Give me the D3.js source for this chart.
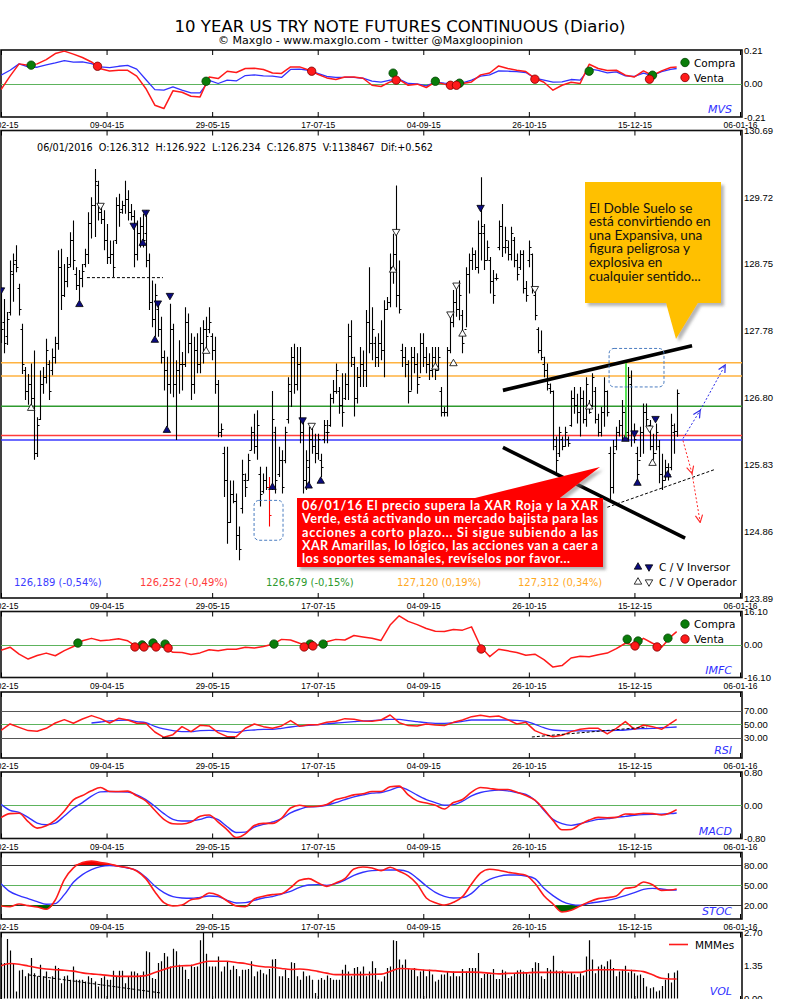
<!DOCTYPE html>
<html lang="es">
<head>
<meta charset="utf-8">
<title>10 YEAR US TRY NOTE FUTURES CONTINUOUS (Diario)</title>
<script src="https://cdn.jsdelivr.net/npm/d3@7"></script>
<style>
html,body{margin:0;padding:0;background:#fff;}
svg{display:block;font-family:"DejaVu Sans",sans-serif;}
.xaxis text{font-size:8.5px;fill:#000;}
.xaxis line{stroke:#000;stroke-width:1;}
.yaxis text{font-size:9.5px;fill:#000;}
</style>
</head>
<body>
<svg id="chart" width="800" height="999"></svg>
<script>
// ---------- date axis ----------
const tickIdx = [0, 35, 70, 105, 140, 175, 210, 245];
const tickLabels = ["19-02-15","09-04-15","29-05-15","17-07-15","04-09-15","26-10-15","15-12-15","06-01-16"];

// ---------- daily OHLC (one entry per session) ----------
const highs = [
128.4,128.24,128.05,128.8,128.9,129.02,128.46,127.88,127.25,127.15,
127.3,127.49,126.52,127.2,127.25,127.66,127.35,127.52,127.69,128.95,
128.97,128.75,128.85,129.21,129.38,128.7,128.66,128.75,128.97,129.5,
129.72,130.13,129.96,129.62,129.53,129.33,129.09,129.09,129.72,129.77,
129.67,129.96,129.82,129.62,129.53,129.38,129.43,129.48,129.53,128.9,
128.51,128.46,128.17,127.98,127.49,127.4,128.17,127.88,127.35,127.64,
127.47,128.12,128.03,127.74,127.69,127.74,127.83,127.93,127.98,128.12,
127.74,127.69,127.06,126.43,126.09,126.09,125.6,125.6,125.41,124.93,
125.9,125.7,125.99,126.38,126.57,126.62,125.8,125.7,125.8,125.65,
126.9,126.38,126.09,126.04,126.38,127.1,127.54,127.59,127.54,127.54,
126.48,126.04,126.38,126.38,126.28,126.28,125.99,126.48,126.48,126.86,
127.06,127.3,126.96,127.16,127.16,127.88,127.93,127.4,127.25,127.54,
127.49,128.08,128.7,128.12,127.69,127.74,127.93,128.22,128.27,128.9,
129.19,129.89,128.8,127.59,127.54,127.35,127.54,127.54,127.45,127.74,
127.74,127.54,127.45,127.54,127.54,127.54,126.96,126.67,127.54,128.03,
128.37,128.41,128.51,128.08,128.7,128.9,128.99,128.95,129.38,130.01,
129.33,129.09,128.85,128.66,128.61,129.38,129.62,129.29,129.09,129.29,
129.14,128.9,128.95,128.95,128.5,129.09,128.9,128.37,127.83,127.78,
127.4,127.3,127.01,126.91,126.24,126.38,126.24,126.38,126.24,126.91,
126.96,126.86,126.96,126.91,127.1,126.77,127.16,126.96,126.57,126.67,
127.1,126.91,126.09,126.19,126.38,126.48,126.77,126.67,127.25,127.2,
126.43,126.09,126.38,126.72,126.72,126.48,126.28,126.43,126.19,125.99,
125.9,125.85,126.57,126.43,126.922];
const lows = [
127.6,127.45,127.57,128.0,128.2,128.63,128.0,127.15,126.77,126.7,
126.67,125.9,125.94,126.48,126.86,127.01,126.77,127.13,127.3,127.5,
128.08,128.27,128.41,128.7,128.66,128.37,128.22,128.41,128.7,128.75,
129.12,129.14,129.38,129.33,128.95,128.75,128.75,128.56,129.04,129.29,
129.48,129.48,129.38,129.38,128.7,128.8,128.99,128.99,128.7,128.08,
127.83,127.69,127.69,127.3,126.91,126.38,126.86,126.81,126.19,126.86,
126.91,127.25,127.45,126.77,126.86,127.16,127.16,127.3,127.49,127.74,
127.35,126.86,126.23,126.23,125.36,124.68,124.98,125.27,124.59,124.44,
125.12,125.36,125.6,126.04,125.99,125.9,125.22,125.41,125.46,124.93,
125.46,125.41,125.65,125.41,125.85,126.43,126.67,126.86,126.91,126.14,
125.41,125.46,125.56,125.99,125.85,125.9,125.65,126.14,126.14,126.38,
126.72,126.86,126.57,126.38,126.77,126.77,127.25,126.53,126.72,126.96,
126.96,126.96,127.45,127.35,127.25,127.25,127.35,127.1,128.08,128.12,
128.46,128.12,128.03,127.25,127.1,126.72,126.91,127.16,126.86,127.16,
127.25,127.16,127.06,127.1,127.06,127.2,126.53,126.53,126.53,127.45,
127.83,127.98,127.93,127.45,127.83,128.32,128.66,128.66,128.61,128.8,
128.66,128.8,128.32,128.17,128.51,128.95,128.85,128.9,128.8,128.8,
128.7,128.51,128.66,128.32,128.2,128.7,128.32,127.93,127.45,127.35,
127.1,126.91,126.86,126.04,125.7,125.94,126.04,126.09,126.09,126.38,
126.57,126.43,126.24,126.43,126.38,126.57,126.67,126.43,126.24,126.24,
126.38,126.53,125.32,125.41,126.04,126.24,126.19,126.24,126.19,126.09,
126.14,125.56,125.94,125.99,126.38,126.04,125.9,126.04,125.56,125.46,
125.6,125.6,125.75,125.99,126.234];
const opens = [
128.3,127.9,127.7,128.05,128.6,128.8,128.4,127.8,127.2,126.9,
127.0,126.8,126.0,126.5,127.0,127.1,127.3,127.2,127.4,127.6,
128.7,128.3,128.5,128.75,129.1,128.6,128.45,128.55,128.75,128.9,
129.35,129.6,129.9,129.5,129.4,129.1,128.85,128.9,129.1,129.6,
129.55,129.6,129.7,129.5,129.45,128.9,129.2,129.3,129.2,128.8,
128.2,127.95,128.1,127.8,127.4,127.2,127.0,127.8,127.0,127.2,
127.3,127.3,127.9,127.6,127.0,127.5,127.3,127.6,127.8,127.8,
127.7,127.5,127.0,126.3,126.0,125.6,125.0,125.4,125.3,124.8,
125.2,125.6,125.6,126.05,126.3,126.1,125.7,125.45,125.6,125.5,
125.5,126.3,125.7,125.9,125.9,126.5,126.9,127.4,127.0,127.3,
126.3,125.6,125.8,126.2,126.1,126.0,125.9,126.2,126.3,126.4,
126.8,126.9,126.9,126.7,126.8,127.0,127.7,127.3,126.8,127.1,
127.3,127.2,127.9,127.6,127.6,127.4,127.6,127.5,128.1,128.2,
128.7,128.9,128.3,127.5,127.4,127.3,126.9,127.4,127.3,127.1,
127.6,127.4,127.3,127.2,127.4,127.2,126.9,126.6,126.6,127.5,
127.9,128.2,128.1,128.0,127.8,128.6,128.8,128.9,128.7,129.2,
129.2,128.8,128.8,128.5,128.55,129.0,129.3,129.0,129.0,128.9,
129.1,128.8,128.7,128.9,128.4,128.8,128.9,128.3,127.8,127.5,
127.3,127.2,126.95,126.9,126.1,126.0,126.2,126.1,126.2,126.4,
126.8,126.7,126.6,126.8,126.5,126.7,126.7,126.9,126.5,126.3,
126.6,126.9,126.0,125.5,126.1,126.3,126.4,126.6,126.3,127.0,
126.3,126.0,125.9,126.3,126.6,126.4,126.1,126.0,126.1,125.7,
125.6,125.8,125.8,126.3,126.312];
const closes = [
127.8,127.6,127.95,128.65,128.75,128.7,128.1,127.3,126.9,127.0,
126.8,126.0,126.4,127.0,127.1,127.5,126.9,127.4,127.6,128.7,
128.3,128.5,128.7,129.1,128.8,128.45,128.55,128.65,128.9,129.35,
129.6,129.95,129.5,129.4,129.1,128.85,128.9,128.7,129.6,129.5,
129.6,129.7,129.5,129.45,128.9,129.2,129.3,129.1,128.8,128.2,
127.95,128.3,127.8,127.4,127.2,127.0,127.8,127.0,127.2,127.3,
127.3,127.9,127.6,127.0,127.5,127.3,127.6,127.8,127.7,127.9,
127.5,127.0,126.3,126.35,125.6,125.0,125.4,125.3,124.8,124.6,
125.7,125.5,125.9,126.3,126.1,126.4,125.4,125.6,125.5,125.1,
126.5,125.6,125.9,125.5,126.3,127.0,127.4,127.0,127.3,126.3,
125.6,125.9,126.2,126.1,126.0,126.2,125.8,126.4,126.3,126.8,
126.9,127.2,126.7,126.6,127.0,127.7,127.4,126.8,127.1,127.3,
127.2,127.9,127.6,127.8,127.4,127.6,127.5,128.1,128.2,128.7,
128.9,128.3,128.1,127.4,127.3,126.9,127.4,127.3,127.0,127.6,
127.4,127.3,127.2,127.4,127.2,127.4,126.6,126.6,127.5,127.9,
128.2,128.1,128.3,127.6,128.6,128.8,128.9,128.7,129.2,129.3,
128.8,129.0,128.5,128.3,128.55,129.3,129.0,129.1,128.9,129.2,
128.8,128.6,128.9,128.4,128.3,129.0,128.4,128.0,127.5,127.4,
127.2,127.0,126.9,126.2,125.9,126.3,126.1,126.3,126.15,126.8,
126.7,126.6,126.8,126.5,127.0,126.6,127.1,126.5,126.3,126.6,
126.9,126.6,125.5,126.0,126.3,126.4,126.6,126.3,127.1,126.3,
126.2,125.7,126.3,126.6,126.5,126.1,126.0,126.3,125.7,125.6,
125.8,125.7,126.4,126.313,126.875];
const highlightBar = 89;

// signal triangles on the price chart: [session, price, type]
const priceMarks = [[0,128.37,"bd"],[10,126.65,"ou"],[26,128.16,"bu"],[33,129.6,"od"],[44,129.31,"bd"],
[47,129.05,"bu"],[48,129.5,"bd"],[51,127.64,"bu"],[52,128.18,"bd"],[55,126.33,"bu"],[56,128.29,"bd"],
[68,127.48,"ou"],[90,125.5,"bu"],[100,126.48,"bd"],[102,125.52,"bu"],[103,126.4,"od"],[106,125.59,"bu"],
[130,128.66,"ou"],[131,129.22,"od"],[144,127.25,"ou"],[149,128.02,"od"],[150,127.3,"ou"],[151,128.44,"od"],
[153,127.73,"ou"],[159,129.57,"bd"],[177,128.39,"od"],[195,126.67,"ou"],[207,126.2,"bu"],[210,126.29,"bd"],
[211,125.56,"bu"],[215,126.36,"od"],[216,125.85,"ou"],[217,126.5,"bd"],[221,125.68,"bu"]];

// XAR levels
const xarLevels = [
  {v:127.312, pct:"0,34%", color:"#ffb23f"},
  {v:127.120, pct:"0,19%", color:"#ffb23f"},
  {v:126.679, pct:"-0,15%", color:"#2e9a2e"},
  {v:126.252, pct:"-0,49%", color:"#ff3b3b"},
  {v:126.189, pct:"-0,54%", color:"#3b3bff"}];

// ---------- indicators, read every third session ----------
const mvsRed = [-0.038,0.046,0.123,0.115,0.123,0.150,0.188,0.203,0.184,0.163,
0.135,0.092,0.079,0.083,0.083,0.046,-0.031,-0.136,-0.157,-0.046,
-0.055,-0.080,-0.084,0.041,0.031,0.077,0.069,0.094,0.096,0.088,
0.066,0.063,0.104,0.104,0.085,0.058,0.035,0.025,0.041,0.040,
0.033,-0.011,-0.019,0.010,0.025,-0.011,-0.004,-0.025,0.010,-0.004,
-0.011,0,0.010,0.054,0.066,0.110,0.094,0.083,0.075,0.033,
0.008,-0.042,-0.011,0.008,0,0.121,0.094,0.082,0.083,0.052,
0.041,0.079,0.050,0.079,0.100,0.104];
const mvsBlue = [0.052,0.083,0.123,0.104,0.102,0.117,0.129,0.144,0.134,0.135,
0.125,0.104,0.100,0.108,0.113,0.090,0.025,-0.038,-0.042,-0.021,
-0.042,-0.059,-0.059,0.019,0,0.021,0.016,0.050,0.054,0.048,
0.046,0.038,0.088,0.090,0.083,0.063,0.044,0.038,0.038,0.038,
0.033,0.015,0.008,0.021,0.027,0,-0.002,-0.015,0.008,0.002,
0,0.004,0.021,0.046,0.054,0.079,0.077,0.075,0.069,0.033,
0.021,0.008,0.010,0.025,0.021,0.092,0.082,0.066,0.073,0.048,
0.044,0.065,0.050,0.075,0.088,0.094];
const mvsBuy = [[10,0.115],[68,0.014],[130,0.065],[144,0.014],[152,0.002],[195,0.077],[216,0.052]];
const mvsSell = [[32,0.108],[103,0.077],[131,0.021],[149,-0.011],[151,-0.011],[177,0.027],[215,0.027]];

const imfc = [-2.8,-1.3,-4.7,-7.1,-5.4,-4.2,-5.5,-3.0,-1.0,1.8,
3.0,1.8,2.2,2.8,1.8,-1.0,-0.7,-1.3,-1.2,-3.8,
-3.9,-4.9,-4.1,-2.6,-3.1,-2.3,-2.3,-1.3,-1.7,-1.0,
0.1,2.5,2.2,0.6,-0.6,-0.2,1.3,2.5,2.2,4.4,
3.7,3.0,2.0,9.5,14.0,11.3,9.7,7.8,6.5,6.3,
7.3,7.0,8.6,-1.0,-5.9,-2.3,-3.1,-3.9,-5.2,-4.7,
-7.4,-11.0,-10.3,-6.6,-5.7,-6.0,-5.0,-4.2,-2.0,0.6,
-0.2,3.0,0.6,-1.3,3.7,6.3];
const imfcBuy = [[25.5,0.7],[46.8,-0.2],[50.4,0.7],[54.4,0.2],[90.5,0.2],[102.5,0.2],[106.8,0.2],[207.6,2.6],[211.2,1.7],[221.1,3.1]];
const imfcSell = [[44.4,-1.2],[47.4,-1.2],[51.4,-1.2],[55.4,-1.7],[100.5,-1.2],[103.4,-0.7],[159.2,-2.2],[210.2,-0.7],[217.5,-1.2]];

const rsiRed = [41.1,50.4,45.5,40.7,39.7,44.1,51.8,56.7,51.4,57.7,
62.6,58.2,51.8,58.7,56.2,51.4,51.4,38.7,30.9,34.8,
46.5,39.2,48.4,47.5,37.7,31.9,31.9,44.1,50.4,46.5,
44.1,47.5,55.3,47,49.4,49.4,52.8,54.3,58.2,57.2,
54.8,54.3,56.2,63.5,52.3,48,47.5,50.4,48.9,48,
52.8,56.2,61.1,63,61.1,62.1,56.7,50.4,52.8,40.7,
35.3,31.9,33.8,39.2,42.6,44.1,44.1,35.8,44.1,53.8,
42.6,48.9,46.5,42.6,51.4,57.2];
const rsiBlue = [null,null,null,null,null,null,null,null,null,null,
51.8,53.3,54.8,55.8,56.2,53.8,52.3,47,43.1,40.7,
39.2,39.2,40.7,41.1,40.7,39.2,38.2,40.7,41.6,42.6,
42.6,44.1,46,47.5,48.4,49.4,50.4,51.8,52.8,53.8,
54.8,55.3,56.2,57.2,57.2,55.3,53.8,52.3,51.4,51.4,
52.3,54.3,56.2,56.2,56.2,56.2,56.2,55.8,54.3,49.9,
45,41.6,40.7,40.2,40.2,40.2,40.2,40.7,41.1,41.6,
43.1,43.6,44.1,45,45.5,46];

const macdRed = [-0.299,-0.202,-0.194,-0.396,-0.55,-0.493,-0.356,-0.137,0.129,0.234,
0.347,0.428,0.331,0.331,0.339,0.226,0.105,-0.121,-0.339,-0.444,
-0.452,-0.404,-0.267,-0.234,-0.404,-0.59,-0.776,-0.687,-0.485,-0.436,
-0.436,-0.315,-0.065,0,-0.032,-0.024,0.016,0.137,0.186,0.25,
0.275,0.331,0.331,0.444,0.46,0.25,0.105,0.053,0,-0.089,
0.065,0.137,0.315,0.428,0.404,0.38,0.38,0.315,0.234,0.121,
-0.097,-0.364,-0.59,-0.582,-0.461,-0.356,-0.291,-0.299,-0.291,-0.21,
-0.218,-0.194,-0.202,-0.234,-0.178,-0.105];
const macdBlue = [0.024,-0.121,-0.17,-0.291,-0.428,-0.469,-0.428,-0.259,-0.073,0.065,
0.218,0.323,0.331,0.323,0.315,0.25,0.137,-0.024,-0.202,-0.339,
-0.38,-0.38,-0.339,-0.283,-0.348,-0.517,-0.655,-0.647,-0.525,-0.461,
-0.404,-0.323,-0.186,-0.097,-0.04,-0.032,0,0.065,0.137,0.202,
0.25,0.291,0.307,0.364,0.436,0.364,0.242,0.137,0.065,0,
0.016,0.097,0.226,0.307,0.347,0.364,0.347,0.307,0.259,0.121,
-0.121,-0.339,-0.444,-0.485,-0.444,-0.388,-0.339,-0.323,-0.291,-0.267,
-0.242,-0.226,-0.218,-0.218,-0.202,-0.186];

const stocRed = [18.5,17.5,21.5,19,17,13.5,27.5,58,75.6,83.6,
86.1,83.6,81.6,78.1,76.1,71.1,59.6,40,23.5,18.5,
20,28,30,38,34.5,26,18.5,17.5,29,33,
35.5,37,46,57,59.6,53.5,48,53,59.6,74,
77.1,75.6,71.6,76.6,70.6,63.6,51,30.5,23.5,20,
24,32.5,51.5,68.1,73.6,72.1,69.1,67.1,64.6,52.5,
34,21.5,9.5,12,18.5,25,29.5,31,33.5,45,
46.5,54.5,50.5,42,42.5,44];
const stocBlue = [52,40,34,29.5,25,21,22,35.5,54,65.6,
73.1,77.6,79.1,78.1,75.6,71.6,61.6,48.5,38.5,32.5,
30.5,30,31.5,33.5,32.5,27,23,23.5,27,30.5,
32.5,36.5,40.5,46.5,50,50.5,49.5,52,57.5,64.6,
69.1,71.6,72.1,72.6,72.6,69.6,60,48.5,39,33,
30.5,31,37.5,50,58.6,63,65,65,63.6,59.6,
45,34,25.5,21,19.5,22.5,24.5,27,30,34,
38.5,43.5,45,44,42.5,42.5];

// volume (millions) per session and its monthly average
const volume = [
1.44,1.44,2.42,1.95,1.44,0.28,1.14,1.17,0.9,1.03,
1.64,1.03,0.9,1.37,0.9,1.1,0.76,0.9,1.33,1.24,
0.62,0.9,0.93,0.76,1.3,0.76,0.76,0.76,0.69,0.9,
0.83,0.69,0.49,0.83,0.9,0.76,0.76,1.13,0.9,1.13,
1.13,0.62,0.9,1.1,1.1,1.03,0.93,1.1,1.92,1.88,
0.83,0.79,1.44,1.51,1.85,1.71,1.3,2.02,1.92,1.37,
1.3,1.17,0.79,1.37,1.28,1.3,2.36,2.67,1.82,1.3,
1.3,1.3,1.71,1.1,1.3,1.51,1.17,1.33,1.2,0.9,
1.17,1.17,1.2,1.51,0.9,1.1,1.17,1.03,0.97,1.2,
1.58,1.6,0.9,0.9,1.17,0.83,1.47,1.44,0.9,0.76,
1.1,0.9,0.93,0.76,0.22,0.76,0.83,0.76,0.93,0.83,
0.76,0.76,0.76,1.17,1.37,1.1,0.9,1.24,1.28,1.1,
1.3,0.9,1.1,1.51,1.24,0.76,0.69,0.9,1.24,1.3,
2.36,2.33,1.58,
1.37,1.58,1.24,1.17,1.24,0.9,1.1,1.17,0.9,1.17,
0.97,0.69,0.76,0.97,0.97,1.1,0.9,1.1,0.9,0.9,
1.2,1.1,1.24,1.24,1.24,1.85,0.83,0.99,1.03,
0.97,1.2,0.79,0.79,1.17,1.1,0.83,0.9,0.99,1.14,
1.17,1.1,1.06,0.97,1.24,1.47,1.44,0.9,0.79,1.24,
1.17,1.74,1.14,1.1,1.14,1.06,0.97,1.06,0.97,
0.87,1.03,0.93,1.71,2.36,1.58,1.03,1.3,1.37,1.3,
1.51,1.58,1.24,0.9,1.1,1.17,1.33,1.06,1.17,1.03,
0.93,0.97,0.83,0.49,0.42,0.46,0.28,0.32,0.51,0.76,
1.03,0.65,1.06,1.14];
const mmMes = [1.33,1.42,1.39,1.32,1.25,1.2,1.17,1.15,1.11,1.04,
1.0,0.97,0.93,0.9,0.9,0.9,0.93,1.06,1.18,1.29,
1.33,1.34,1.44,1.51,1.51,1.51,1.46,1.42,1.34,1.29,
1.27,1.22,1.18,1.2,1.17,1.1,1.03,0.97,0.97,0.97,
0.97,0.98,0.99,1.1,1.22,1.21,1.18,1.15,1.13,1.09,
1.07,1.07,1.07,1.06,1.03,1.0,1.02,1.03,1.04,1.06,
1.06,1.06,1.06,1.06,1.06,1.15,1.17,1.17,1.17,1.15,
1.13,1.09,0.96,0.82,0.79,0.79];

// session index of every indicator reading
const sampleIdx = d3.range(0, 223, 3).concat([224]);

// ---------- layout ----------
const svg = d3.select("#chart");
const X0 = 1, X1 = 742;
const x = d3.scaleLinear().domain([0, 245]).range([1, 740]);
const px = i => Math.round(x(i)) + 0.5;

const panels = {
  mvs:  {top:50,    bottom:117,   domain:[-0.21,0.21], ticks:[0.21,0,-0.21], labels:true, name:"MVS"},
  main: {top:130.5, bottom:598,   domain:[123.89,130.69], ticks:[130.69,129.72,128.75,127.78,126.80,125.83,124.86,123.89], labels:true},
  imfc: {top:611.5, bottom:677.5, domain:[-16.1,16.1], ticks:[16.1,0,-16.1], labels:true, name:"IMFC"},
  rsi:  {top:692,   bottom:758,   domain:[0,100], range:[758.5,690], ticks:[70,50,30], labels:true, name:"RSI"},
  macd: {top:772,   bottom:838.5, domain:[-0.8,0.8], ticks:[0.8,0,-0.8], labels:true, name:"MACD"},
  stoc: {top:852.5, bottom:919,   domain:[0,100], range:[918.3,851.7], ticks:[80,50,20], labels:true, name:"STOC"},
  vol:  {top:932.5, bottom:1001,  domain:[0,2.7], range:[998.5,932], ticks:[2.7,1.35,0], labels:false, name:"VOL"}
};
Object.entries(panels).forEach(([k,p]) => {
  p.y = d3.scaleLinear().domain(p.domain).range(p.range || [p.bottom, p.top]);
  p.key = k;
});

const defs = svg.append("defs");
Object.values(panels).forEach(p => {
  defs.append("clipPath").attr("id","clip-"+p.key)
    .append("rect").attr("x",X0).attr("y",p.top).attr("width",X1-X0).attr("height",p.bottom-p.top);
});
const shadow = defs.append("filter").attr("id","shadow").attr("x","-10%").attr("y","-10%").attr("width","130%").attr("height","140%");
shadow.append("feDropShadow").attr("dx",3).attr("dy",3).attr("stdDeviation",1.6).attr("flood-color","#7a7a7a").attr("flood-opacity",0.55);
function arrowMarker(id, color){
  defs.append("marker").attr("id",id).attr("viewBox","0 0 10 10").attr("refX",9).attr("refY",5)
    .attr("markerWidth",9).attr("markerHeight",9).attr("orient","auto-start-reverse").attr("markerUnits","userSpaceOnUse")
    .append("path").attr("d","M1,1L9,5L1,9").attr("fill","none").attr("stroke",color).attr("stroke-width",1.3);
}
arrowMarker("arrow-blue","#2a2ae6");
arrowMarker("arrow-red","#ff2a2a");

// ---------- titles ----------
svg.append("text").attr("x",400).attr("y",32).attr("text-anchor","middle")
  .attr("font-size",16.5).attr("textLength",451).attr("lengthAdjust","spacingAndGlyphs")
  .text("10 YEAR US TRY NOTE FUTURES CONTINUOUS (Diario)");
svg.append("text").attr("x",370.5).attr("y",43.5).attr("text-anchor","middle")
  .attr("font-size",11).attr("textLength",305).attr("lengthAdjust","spacingAndGlyphs")
  .text("© Maxglo - www.maxglo.com - twitter @Maxgloopinion");

// ---------- frames & axes ----------
function frame(p){
  svg.append("rect").attr("x",X0).attr("y",p.top).attr("width",X1-X0).attr("height",p.bottom-p.top)
    .attr("fill","none").attr("stroke","#111").attr("stroke-width",1.6);
  const gb = svg.append("g").attr("class","xaxis").attr("transform",`translate(0,${p.bottom})`)
    .call(d3.axisBottom(x).tickValues(tickIdx).tickFormat((d,i)=>tickLabels[i]).tickSizeInner(-5).tickSizeOuter(0).tickPadding(5));
  gb.select(".domain").remove();
  if(!p.labels) gb.selectAll("text").remove();
  const gt = svg.append("g").attr("class","xaxis").attr("transform",`translate(0,${p.top})`)
    .call(d3.axisTop(x).tickValues(tickIdx).tickFormat("").tickSizeInner(-5).tickSizeOuter(0));
  gt.select(".domain").remove();
  const gy = svg.append("g").attr("class","yaxis").attr("transform",`translate(${X1},0)`)
    .call(d3.axisRight(p.y).tickValues(p.ticks).tickSize(0).tickPadding(2).tickFormat(d => d.toFixed(2)));
  gy.select(".domain").remove();
  if(p.name){
    svg.append("text").attr("x",732).attr("y",p.key==="vol"?995:p.bottom-4).attr("text-anchor","end")
      .attr("font-size",11).attr("font-style","italic").attr("fill","#2f2fff").text(p.name);
  }
}

function hline(p, v, color, w){
  svg.append("line").attr("x1",X0).attr("x2",X1).attr("y1",Math.round(p.y(v))+0.5).attr("y2",Math.round(p.y(v))+0.5)
    .attr("stroke",color).attr("stroke-width",w||1);
}

function seriesLine(p, vals, color, curve, width){
  const pts = vals.map((v,k)=>[sampleIdx[k], v]).filter(d=>d[1]!==null);
  svg.append("path").datum(pts).attr("clip-path",`url(#clip-${p.key})`)
    .attr("d", d3.line().x(d=>x(d[0])).y(d=>p.y(d[1])).curve(curve||d3.curveLinear))
    .attr("fill","none").attr("stroke",color).attr("stroke-width",width||1.4).attr("stroke-linejoin","round");
}

function dots(p, list, fill, stroke){
  svg.append("g").selectAll("circle").data(list).join("circle")
    .attr("cx",d=>x(d[0])).attr("cy",d=>p.y(d[1])).attr("r",4.2)
    .attr("fill",fill).attr("stroke",stroke).attr("stroke-width",0.8);
}

function signalLegend(yTop){
  const g = svg.append("g").attr("font-size",10.5);
  g.append("circle").attr("cx",685).attr("cy",yTop).attr("r",4.2).attr("fill","#0a7d0a").attr("stroke","#044404").attr("stroke-width",0.8);
  g.append("text").attr("x",694).attr("y",yTop+4).text("Compra");
  g.append("circle").attr("cx",685).attr("cy",yTop+15).attr("r",4.2).attr("fill","#ff1a1a").attr("stroke","#7a0000").attr("stroke-width",0.8);
  g.append("text").attr("x",694).attr("y",yTop+19).text("Venta");
}

const P = panels;
const green = "#5db35d";

// ---------- MVS ----------
frame(P.mvs);
hline(P.mvs, 0, green);
seriesLine(P.mvs, mvsBlue, "#3232ff", d3.curveLinear, 1.3);
seriesLine(P.mvs, mvsRed, "#ff1a1a", d3.curveLinear, 1.5);
dots(P.mvs, mvsBuy, "#0a7d0a", "#044404");
dots(P.mvs, mvsSell, "#ff1a1a", "#7a0000");
signalLegend(62.5);

// ---------- price panel ----------
frame(P.main);
const yM = P.main.y;
const gMain = svg.append("g").attr("clip-path","url(#clip-main)");

// XAR horizontal levels
xarLevels.forEach(l => {
  gMain.append("line").attr("x1",X0).attr("x2",X1).attr("y1",yM(l.v)).attr("y2",yM(l.v))
    .attr("stroke",l.color).attr("stroke-width",1.5);
});

// OHLC bars
const bars = highs.map((h,i)=>({i, o:opens[i], h, l:lows[i], c:closes[i]}));
gMain.append("g").selectAll("path").data(bars).join("path")
  .attr("d", d => {
    const cx = px(d.i);
    const yo = Math.round(yM(d.o))+0.5, yc = Math.round(yM(d.c))+0.5;
    return `M${cx},${yM(d.h)}V${yM(d.l)}M${cx-2},${yo}H${cx}M${cx},${yc}H${cx+2}`;
  })
  .attr("fill","none").attr("stroke", d => d.i===highlightBar ? "#ff0000" : "#000").attr("stroke-width",1.1);

// signal triangles
const triUp = d3.symbol(d3.symbolTriangle, 24)();
gMain.append("g").selectAll("path").data(priceMarks).join("path")
  .attr("d", triUp)
  .attr("transform", d => `translate(${x(d[0])},${yM(d[1])}) rotate(${d[2][1]==="d"?180:0})`)
  .attr("fill", d => d[2][0]==="b" ? "#0b0b80" : "#fff")
  .attr("stroke", "#000").attr("stroke-width",0.8);

// drawn analysis: support, expanding triangle and projections
const L = d3.line().x(d=>x(d[0])).y(d=>yM(d[1]));
const drawn = gMain.append("g").attr("fill","none");
drawn.append("path").attr("d",L([[28.5,128.55],[53.7,128.55]])).attr("stroke","#000").attr("stroke-dasharray","3,2");
drawn.append("path").attr("d",L([[166.4,126.91],[229.1,127.56]])).attr("stroke","#000").attr("stroke-width",3.6);
drawn.append("path").attr("d",L([[166.4,126.08],[226.8,124.76]])).attr("stroke","#000").attr("stroke-width",3.6);
drawn.append("path").attr("d",L([[201,125.21],[236.7,125.76]])).attr("stroke","#000").attr("stroke-dasharray","3,2");
drawn.append("path").attr("d",L([[207.2,127.31],[207.2,126.23]])).attr("stroke","#22dd22").attr("stroke-width",1.5);
drawn.append("path").attr("d",L([[226.1,126.21],[231.8,126.62]])).attr("stroke","#2a2ae6").attr("stroke-dasharray","2,2").attr("marker-end","url(#arrow-blue)");
drawn.append("path").attr("d",L([[231.8,126.62],[240.1,127.28]])).attr("stroke","#2a2ae6").attr("stroke-dasharray","2,2").attr("marker-end","url(#arrow-blue)");
drawn.append("path").attr("d",L([[226.1,126.18],[229.1,125.7]])).attr("stroke","#ff2a2a").attr("stroke-dasharray","2,2").attr("marker-end","url(#arrow-red)");
drawn.append("path").attr("d",L([[229.1,125.7],[231.8,124.99]])).attr("stroke","#ff2a2a").attr("stroke-dasharray","2,2").attr("marker-end","url(#arrow-red)");
function zoneBox(i0,i1,p0,p1){
  drawn.append("rect").attr("x",x(i0)).attr("y",yM(p0)).attr("width",x(i1)-x(i0)).attr("height",yM(p1)-yM(p0))
    .attr("rx",5).attr("stroke","#4a7cc0").attr("stroke-dasharray","3,2");
}
zoneBox(201.6,219.8,127.52,126.96);
zoneBox(83.9,93.5,125.31,124.73);

// session summary line
svg.append("text").attr("x",37).attr("y",151).attr("font-size",10).attr("textLength",396).attr("lengthAdjust","spacingAndGlyphs")
  .style("white-space","pre")
  .text("06/01/2016  O:126.312  H:126.922  L:126.234  C:126.875  V:1138467  Dif:+0.562");

// XAR value labels
const xarLabelX = [518, 397, 266, 140, 14];
svg.append("g").attr("font-size",10).selectAll("text").data(xarLevels).join("text")
  .attr("x",(d,i)=>xarLabelX[i]).attr("y",586)
  .attr("fill",d=> d.color==="#ffb23f" ? "#ffa91f" : d.color)
  .text(d => d.v.toFixed(3).replace(".",",") + " (" + d.pct + ")");

// triangle legend
const lg = svg.append("g").attr("font-size",10.5);
[[0,"C / V Inversor","b"],[1,"C / V Operador","o"]].forEach(([r,t,k])=>{
  const yy = 567 + r*15;
  lg.append("path").attr("d",triUp).attr("transform",`translate(638,${yy})`).attr("fill",k==="b"?"#0b0b80":"#fff").attr("stroke","#000").attr("stroke-width",0.8);
  lg.append("path").attr("d",triUp).attr("transform",`translate(649,${yy}) rotate(180)`).attr("fill",k==="b"?"#0b0b80":"#fff").attr("stroke","#000").attr("stroke-width",0.8);
  lg.append("text").attr("x",659).attr("y",yy+4).text(t);
});

// callout: expanding pattern
const cy = svg.append("g").attr("filter","url(#shadow)");
cy.append("path").attr("d","M585,182H721V303H698L676,339L666,303H585Z").attr("fill","#ffc000");
const yText = ["El Doble Suelo se","está convirtiendo en","una Expansiva, una","figura peligrosa y","explosiva en","cualquier sentido..."];
svg.append("g").attr("font-family","Lato, 'Open Sans', sans-serif").attr("font-size",13.6).attr("fill","#111")
  .selectAll("text").data(yText).join("text")
  .attr("x",589).attr("y",(d,i)=>212.5+i*13.6).text(d=>d);

// callout: XAR breakout note
const cr = svg.append("g").attr("filter","url(#shadow)");
cr.append("path").attr("d","M297,498H475L600,467L560,498H603V567H297Z").attr("fill","#ff0000");
const rText = ["06/01/16 El precio supera la XAR Roja y la XAR",
  "Verde, está activando un mercado bajista para las",
  "acciones a corto plazo... Si sigue subiendo a las",
  "XAR Amarillas, lo lógico, las acciones van a caer a",
  "los soportes semanales, revíselos por favor..."];
const rLen = [296,296,296,296,268];
svg.append("g").attr("font-family","Lato, 'Open Sans', sans-serif").attr("font-weight","bold").attr("font-size",12.6).attr("fill","#fff")
  .selectAll("text").data(rText).join("text")
  .attr("x",302).attr("y",(d,i)=>510+i*13.3)
  .attr("textLength",(d,i)=>rLen[i]).attr("lengthAdjust","spacing").text(d=>d);

// ---------- IMFC ----------
frame(P.imfc);
hline(P.imfc, 0, green);
seriesLine(P.imfc, imfc, "#ff1a1a", d3.curveLinear, 1.5);
dots(P.imfc, imfcBuy, "#0a7d0a", "#044404");
dots(P.imfc, imfcSell, "#ff1a1a", "#7a0000");
signalLegend(624);

// ---------- RSI ----------
frame(P.rsi);
hline(P.rsi, 70, "#555");
hline(P.rsi, 30, "#555");
hline(P.rsi, 50, green);
seriesLine(P.rsi, rsiBlue, "#3232ff", d3.curveMonotoneX, 1.3);
seriesLine(P.rsi, rsiRed, "#ff1a1a", d3.curveLinear, 1.5);
const Lr = d3.line().x(d=>x(d[0])).y(d=>P.rsi.y(d[1]));
svg.append("path").attr("d",Lr([[53.4,30],[77.6,30]])).attr("stroke","#000").attr("stroke-width",1.6).attr("fill","none");
svg.append("path").attr("d",Lr([[176,31.4],[214.2,46]])).attr("stroke","#000").attr("stroke-dasharray","3,2").attr("fill","none");

// ---------- MACD ----------
frame(P.macd);
hline(P.macd, 0, green);
seriesLine(P.macd, macdBlue, "#3232ff", d3.curveMonotoneX, 1.4);
seriesLine(P.macd, macdRed, "#ff1a1a", d3.curveMonotoneX, 1.6);

// ---------- STOC ----------
frame(P.stoc);
hline(P.stoc, 80, "#333");
hline(P.stoc, 20, "#333");
hline(P.stoc, 50, green);
const stPts = stocRed.map((v,k)=>[sampleIdx[k], v]);
svg.append("path").datum(stPts).attr("clip-path","url(#clip-stoc)")
  .attr("d", d3.area().x(d=>x(d[0])).y0(P.stoc.y(80)).y1(d=>P.stoc.y(Math.max(d[1],80))).curve(d3.curveMonotoneX))
  .attr("fill","#ee0000");
svg.append("path").datum(stPts).attr("clip-path","url(#clip-stoc)")
  .attr("d", d3.area().x(d=>x(d[0])).y0(P.stoc.y(20)).y1(d=>P.stoc.y(Math.min(d[1],20))).curve(d3.curveMonotoneX))
  .attr("fill","#006400");
seriesLine(P.stoc, stocBlue, "#3232ff", d3.curveMonotoneX, 1.4);
seriesLine(P.stoc, stocRed, "#ff1a1a", d3.curveMonotoneX, 1.6);

// ---------- VOL ----------
frame(P.vol);
const yV = P.vol.y;
svg.append("g").attr("clip-path","url(#clip-vol)").selectAll("line").data(volume).join("line")
  .attr("x1",(d,i)=>px(i)).attr("x2",(d,i)=>px(i))
  .attr("y1",yV(0)).attr("y2",d=>yV(d))
  .attr("stroke","#000").attr("stroke-width",1.2);
seriesLine(P.vol, mmMes, "#ff1a1a", d3.curveMonotoneX, 1.6);
svg.append("path").attr("d",d3.line().x(d=>x(d[0])).y(d=>yV(d[1]))([[9,0.96],[52.7,0.23]]))
  .attr("stroke","#000").attr("stroke-dasharray","3,2").attr("fill","none");
svg.append("line").attr("x1",669).attr("x2",688).attr("y1",944.5).attr("y2",944.5).attr("stroke","#ff1a1a").attr("stroke-width",1.6);
svg.append("text").attr("x",695).attr("y",948.5).attr("font-size",10.5).text("MMMes");
</script>
</body>
</html>
